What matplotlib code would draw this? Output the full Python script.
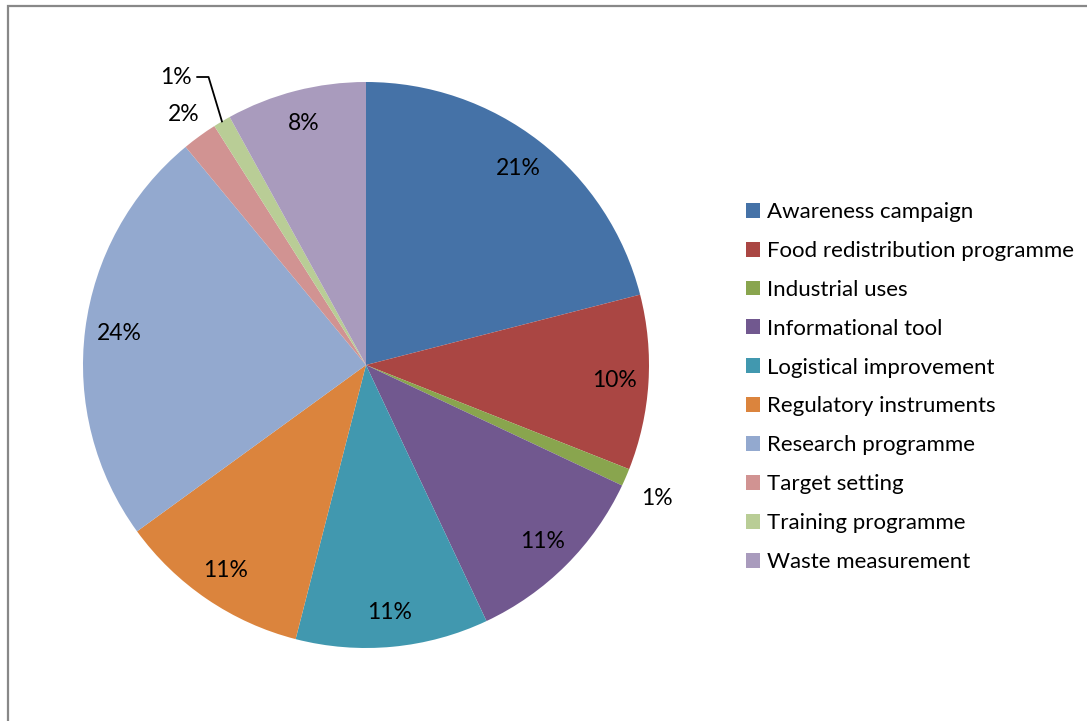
import matplotlib
matplotlib.use("Agg")
import matplotlib.pyplot as plt
from matplotlib.patches import Rectangle, Patch
import numpy as np

categories = ["Awareness campaign", "Food redistribution programme", "Industrial uses",
              "Informational tool", "Logistical improvement", "Regulatory instruments",
              "Research programme", "Target setting", "Training programme", "Waste measurement"]
values = [21, 10, 1, 11, 11, 11, 24, 2, 1, 8]
colors = ["#4572A7", "#AA4643", "#89A54E", "#71588F", "#4198AF",
          "#DB843D", "#93A9CF", "#D19392", "#B9CD96", "#A99BBD"]

plt.rcParams['font.family'] = ['Lato', 'DejaVu Sans']

W, H = 1087, 721
fig = plt.figure(figsize=(W / 100, H / 100), dpi=100)
cx, cy, rpx = 366, 365, 283
half = 300
ax = fig.add_axes([(cx - half) / W, (H - cy - half) / H, 2 * half / W, 2 * half / H])

wedges, _ = ax.pie(values, colors=colors, startangle=90, counterclock=False,
                   radius=1.0, wedgeprops=dict(linewidth=0))
lim = half / rpx
ax.set_xlim(-lim, lim)
ax.set_ylim(-lim, lim)
ax.set_aspect('equal')
ax.axis('off')

total = sum(values)
cum = 0
fs = 16
pfs = 16.5
for i, v in enumerate(values):
    mid = 90 - 360 * (cum + v / 2) / total
    cum += v
    a = np.deg2rad(mid)
    txt = f"{v}%"
    if i == 2:
        d = 1.10
        ax.text(d * np.cos(a) + 0.02, d * np.sin(a) - 0.035, txt, ha='center', va='center', fontsize=pfs)
    elif i == 7:
        d = 1.095
        ax.text(d * np.cos(a), d * np.sin(a), txt, ha='center', va='center', fontsize=pfs)
    elif i == 8:
        lx, ly = (176 - cx) / rpx, (cy - 77) / rpx
        ax.text(lx, ly, txt, ha='center', va='center', fontsize=pfs)
        ex, ey = np.cos(a), np.sin(a)
        ax.plot([lx + 0.075, lx + 0.115, ex], [ly, ly, ey], color='black', lw=1.3)
    else:
        d = 0.88
        ax.text(d * np.cos(a), d * np.sin(a), txt, ha='center', va='center', fontsize=pfs)

handles = [Patch(facecolor=c, edgecolor='none') for c in colors]
leg = fig.legend(handles, categories, loc='upper left',
                 bbox_to_anchor=(746 / W, 1 - 202 / H), frameon=False,
                 fontsize=fs, handlelength=0.65, handleheight=0.65, handletextpad=0.3,
                 labelspacing=0.85, borderaxespad=0, borderpad=0)

fig.patches.append(Rectangle((8 / W, -0.1), 1.2, 1 - 6 / H + 0.1, transform=fig.transFigure,
                             fill=False, edgecolor='#888888', lw=1.6))

fig.savefig("out.png", dpi=100)
